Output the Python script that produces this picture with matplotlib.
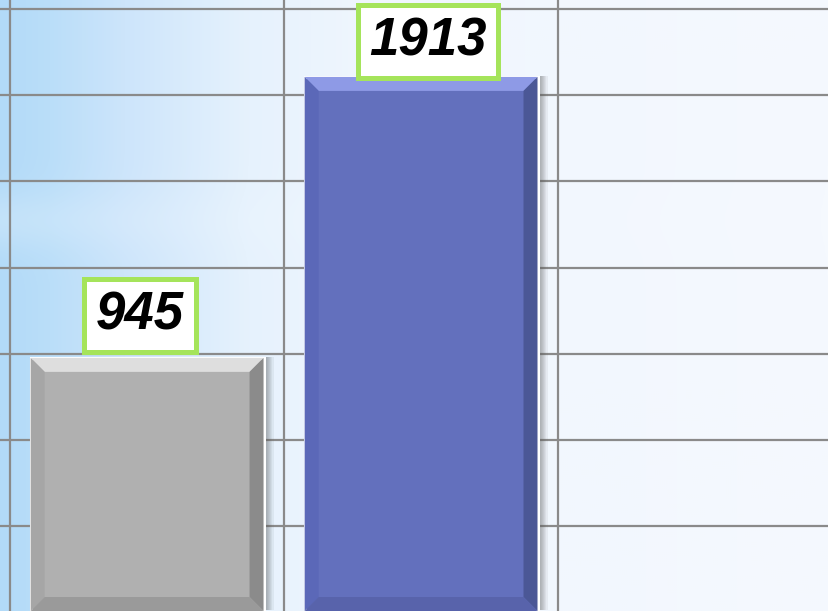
import numpy as np
import matplotlib
matplotlib.use('Agg')
from matplotlib import pyplot as plt
from matplotlib import patheffects as pe

# data
values = [945, 1913]
bar_faces = ['#b0b0b0', '#6370bd']
# bevel colours: top, left, right, bottom
bar_bevels = [['#dedede', '#a6a6a6', '#8b8b8b', '#9a9a9a'],
              ['#8e9ae6', '#5b68b8', '#4b5796', '#5863ab']]
label_offsets = [(-5, 12.5), (5, 7.5)]  # points

y_min, y_max = 73, 2178
grid_start, grid_step = 68, 297
x_min, x_max = -0.537, 2.489


def make_background(w=415, h=306):
    stops = np.array([0.0, 0.06, 0.15, 0.30, 0.45, 1.0])
    cols = np.array([(178, 218, 248), (186, 222, 249), (205, 229, 251),
                     (230, 242, 253), (240, 246, 254), (245, 249, 254)]) / 255
    t = np.linspace(0, 1, w)
    row = np.stack([np.interp(t, stops, cols[:, c]) for c in range(3)], axis=-1)
    img = np.repeat(row[None, :, :], h, axis=0)
    # faint horizontal streaks
    yy = np.linspace(0, 1, h)[:, None, None]
    streak = 0.22 * np.exp(-((yy - 0.36) / 0.05) ** 2) * np.exp(-(t[None, :, None] / 0.3))
    img = img + (1 - img) * streak
    return np.clip(img, 0, 1)


def add_bevel(ax, patch, colors, bw_px=14):
    x0, y0 = patch.get_x(), patch.get_y()
    x1, y1 = x0 + patch.get_width(), y0 + patch.get_height()
    # convert bevel width from pixels to data units
    inv = ax.transData.inverted()
    p0 = inv.transform((0, 0))
    p1 = inv.transform((bw_px, bw_px))
    bx, by = p1[0] - p0[0], p1[1] - p0[1]
    top = [(x0, y1), (x1, y1), (x1 - bx, y1 - by), (x0 + bx, y1 - by)]
    left = [(x0, y0), (x0, y1), (x0 + bx, y1 - by), (x0 + bx, y0 + by)]
    right = [(x1, y0), (x1, y1), (x1 - bx, y1 - by), (x1 - bx, y0 + by)]
    bottom = [(x0, y0), (x1, y0), (x1 - bx, y0 + by), (x0 + bx, y0 + by)]
    for poly, c in zip([top, left, right, bottom], colors):
        xs, ys = zip(*poly)
        ax.fill(xs, ys, color=c, lw=0, zorder=3)


fig = plt.figure(figsize=(8.29, 6.11), dpi=100)
ax = fig.add_axes([0, 0, 1, 1])
ax.set_xlim(x_min, x_max)
ax.set_ylim(y_min, y_max)

ax.imshow(make_background(), extent=(0, 1, 0, 1), transform=ax.transAxes,
          aspect='auto', zorder=0)

for gy in np.arange(grid_start, y_max, grid_step):
    ax.axhline(gy, color='#8a8a8a', lw=1.6, zorder=1)
for gx in np.arange(len(values) + 1) - 0.5:
    ax.axvline(gx, color='#8a8a8a', lw=1.6, zorder=1)

x = np.arange(len(values))
heights = np.array(values) - y_min
shadow = [pe.SimplePatchShadow(offset=(k * 0.8, 0.4), shadow_rgbFace='#5a5a5a', alpha=0.08)
          for k in range(1, 10)]
bars = ax.bar(x, heights, bottom=y_min, width=0.85, color=bar_faces,
              edgecolor='white', linewidth=2.2, zorder=2)
for b in bars:
    b.set_path_effects(shadow + [pe.Normal()])

for b, cols in zip(bars, bar_bevels):
    add_bevel(ax, b, cols)

for xi, v, off in zip(x, values, label_offsets):
    ax.annotate(str(v), xy=(xi, v), xytext=off, textcoords='offset points',
                ha='center', va='bottom', fontsize=38, fontweight='bold',
                fontstyle='italic', family=['Liberation Sans', 'DejaVu Sans'],
                color='black', zorder=5,
                bbox=dict(boxstyle='square,pad=0.22', fc='white', ec='#a5e45b', lw=3.6))

ax.axis('off')
fig.savefig('out.png', dpi=100)
